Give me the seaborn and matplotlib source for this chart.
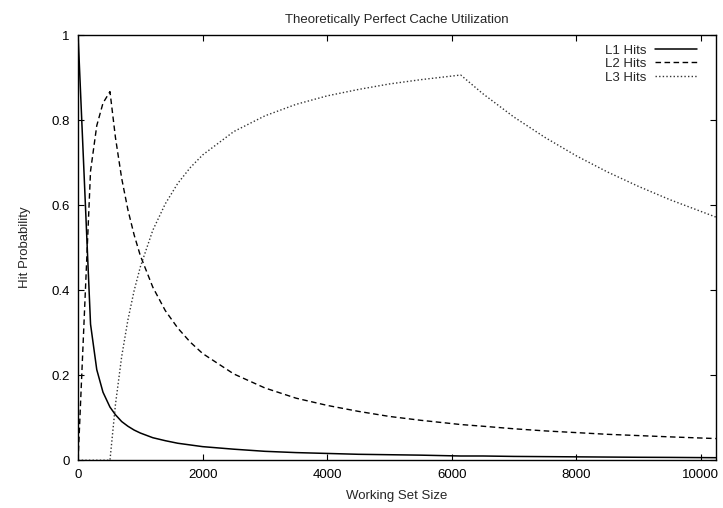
import matplotlib
matplotlib.use("Agg")
import matplotlib.pyplot as plt
import seaborn as sns
import pandas as pd

# Working set sizes (sample points)
working_set = [0, 200, 300, 400, 512, 600, 700, 800, 900, 1000, 1200, 1400, 1600,
               1800, 2000, 2500, 3000, 3500, 4000, 4500, 5000, 5500, 6144, 6500,
               7000, 7500, 8000, 8500, 9000, 9500, 10240]

l1_hits = [1.0, 0.32, 0.213, 0.16, 0.125, 0.107, 0.091, 0.080, 0.071, 0.064, 0.053,
           0.046, 0.040, 0.036, 0.032, 0.026, 0.021, 0.018, 0.016, 0.014, 0.013,
           0.012, 0.010, 0.010, 0.009, 0.0085, 0.008, 0.0075, 0.007, 0.0067, 0.006]

l2_hits = [0.0, 0.68, 0.787, 0.84, 0.867, 0.759, 0.663, 0.589, 0.530, 0.481, 0.407,
           0.352, 0.311, 0.278, 0.251, 0.203, 0.170, 0.146, 0.129, 0.115, 0.103,
           0.094, 0.084, 0.080, 0.074, 0.069, 0.065, 0.061, 0.058, 0.055, 0.051]

l3_hits = [0.0, 0.0, 0.0, 0.0, 0.0, 0.131, 0.244, 0.330, 0.399, 0.455, 0.541,
           0.603, 0.651, 0.688, 0.718, 0.773, 0.810, 0.837, 0.857, 0.872, 0.885,
           0.895, 0.906, 0.862, 0.807, 0.759, 0.716, 0.678, 0.644, 0.613, 0.572]

series_names = ["L1 Hits", "L2 Hits", "L3 Hits"]
x_ticks = [0, 2000, 4000, 6000, 8000, 10000]
x_tick_labels = ["0", "2000", "4000", "6000", "8000", "10000"]
y_ticks = [0, 0.2, 0.4, 0.6, 0.8, 1.0]
y_tick_labels = ["0", "0.2", "0.4", "0.6", "0.8", "1"]

sns.set_style("ticks")
plt.rcParams["font.family"] = ["Liberation Sans", "DejaVu Sans"]
plt.rcParams["font.size"] = 9.5

fig = plt.figure(figsize=(7.23, 5.08), dpi=100)
ax = fig.add_axes([0.108, 0.094, 0.882, 0.837])

df = pd.DataFrame({"x": working_set, "L1": l1_hits, "L2": l2_hits, "L3": l3_hits})

sns.lineplot(data=df, x="x", y="L1", ax=ax, color="black", linewidth=1.1,
             linestyle="-", label=series_names[0])
sns.lineplot(data=df, x="x", y="L2", ax=ax, color="black", linewidth=1.0,
             linestyle=(0, (4, 2.5)), label=series_names[1])
sns.lineplot(data=df, x="x", y="L3", ax=ax, color="#333333", linewidth=1.0,
             linestyle=(0, (1, 1.6)), label=series_names[2])

ax.set_xlim(0, 10240)
ax.set_ylim(0, 1)
ax.set_xticks(x_ticks)
ax.set_xticklabels(x_tick_labels)
ax.set_yticks(y_ticks)
ax.set_yticklabels(y_tick_labels)
ax.tick_params(direction="in", length=4.2, width=0.8, top=True, right=True,
               labelsize=9.5, pad=6, colors="black")
for s in ax.spines.values():
    s.set_visible(True)
    s.set_linewidth(1.0)
    s.set_color("black")

ax.set_xlabel("Working Set Size", fontsize=9.5, labelpad=7)
ax.set_ylabel("Hit Probability", fontsize=9.5, labelpad=15)
ax.set_title("Theoretically Perfect Cache Utilization", fontsize=9.5, pad=9)

leg = ax.legend(loc="upper right", bbox_to_anchor=(0.985, 1.0), frameon=False,
                markerfirst=False, handlelength=3.2, handletextpad=0.6,
                labelspacing=0.1, borderaxespad=0.3, fontsize=9.5)

fig.savefig("out.png", dpi=100)
